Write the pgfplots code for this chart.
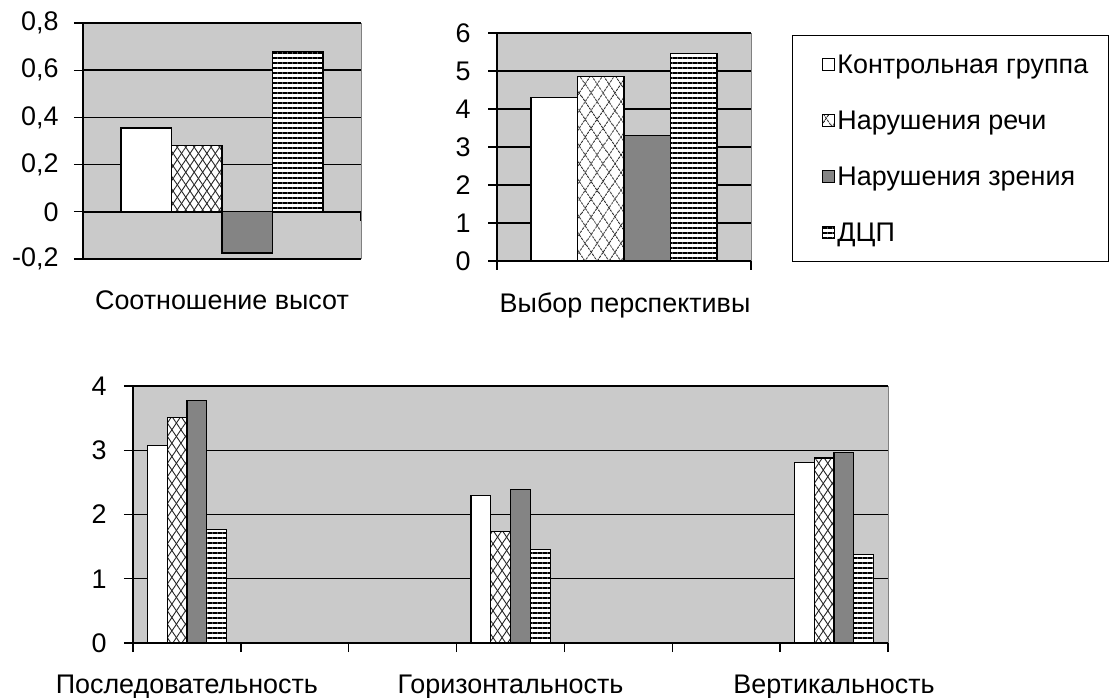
\documentclass[border=0pt]{standalone}
\usepackage{fontspec}
\setmainfont{Liberation Sans}
\usepackage{pgfplots}
\pgfplotsset{compat=1.18}
\usetikzlibrary{patterns.meta}
\definecolor{plotbg}{RGB}{202,202,202}
\definecolor{bargray}{RGB}{132,132,132}
\definecolor{bordergray}{RGB}{128,128,128}
\newcommand{\bigf}{\fontsize{27}{32}\selectfont}
\tikzset{
  crossfill/.style={fill=white,
    postaction={pattern={Lines[angle=56,distance=#1,line width=0.9bp]},pattern color=black!85},
    postaction={pattern={Lines[angle=-56,distance=#1,line width=0.9bp]},pattern color=black!85}},
  crossfill/.default=7bp,
  linefill/.style={fill=white,
    postaction={pattern={Lines[angle=0,distance=5bp,line width=1.8bp]},pattern color=black}},
}
\pgfplotsset{
  excel/.style={
    scale only axis, anchor=south west,
    axis background/.style={fill=plotbg},
    ybar=0pt,
    axis y line*=left,
    hide obscured x ticks=false, hide obscured y ticks=false,
    ymajorgrids,
    major grid style={black, line width=1.4bp},
    y axis line style={black, line width=1.6bp},
    x axis line style={black, line width=1.6bp},
    tick style={black, line width=1.3bp},
    tick align=outside,
    major tick length=9bp,
    ticklabel style={font=\bigf},
    label style={font=\bigf},
    /pgf/number format/assume math mode=true,
    every axis plot/.append style={draw=black, line width=1.2bp},
    after end axis/.code={\draw[bordergray, line width=1bp] (rel axis cs:1,0) -- (rel axis cs:1,1);},
  },
  sq/.style={legend image code/.code={\pgfpathrectangle{\pgfpoint{0bp}{-28bp}}{\pgfpoint{25bp}{56bp}}\pgfusepath{}\draw[##1, line width=1bp] (12bp,-6bp) rectangle (24bp,6bp);}},
}
\begin{document}
\begin{tikzpicture}
\path[use as bounding box] (0,0) rectangle (1110bp,698bp);
% top-left
\begin{axis}[excel, at={(83bp,439bp)}, width=278bp, height=236bp,
  xmin=0.5, xmax=1.5, ymin=-0.2, ymax=0.8,
  axis x line*=middle,
  xtick={0.5,1.5}, xticklabels={,,},
  ytick={-0.2,0,0.2,0.4,0.6,0.8}, yticklabels={{-0,2},{0},{0,2},{0,4},{0,6},{0,8}},
  yticklabel style={xshift=-12bp},
  bar width=50.5bp,
  xlabel={Соотношение высот}, xlabel style={at={(axis description cs:0.5,-0.212)}, anchor=base}]
\addplot[fill=white] coordinates {(1,0.355)};
\addplot[crossfill=7bp] coordinates {(1,0.28)};
\addplot[fill=bargray] coordinates {(1,-0.175)};
\addplot[linefill] coordinates {(1,0.68)};
\end{axis}
% top-middle
\begin{axis}[excel, at={(497bp,437bp)}, width=254bp, height=228bp,
  xmin=0.5, xmax=1.5, ymin=0, ymax=6,
  axis x line*=bottom,
  xtick={0.5,1.5}, xticklabels={,,},
  ytick={0,1,2,3,4,5,6},
  yticklabel style={xshift=-14bp},
  bar width=46.5bp,
  xlabel={Выбор перспективы}, xlabel style={at={(axis description cs:0.504,-0.224)}, anchor=base},
  legend style={at={(axis description cs:1.1614,0.9912)}, anchor=north west, draw=black, line width=1bp,
    inner xsep=18bp, inner ysep=1bp, row sep=0bp, font=\bigf, cells={anchor=west}}]
\addplot[fill=white, sq] coordinates {(1,4.3)};
\addplot[crossfill=10bp, sq] coordinates {(1,4.85)};
\addplot[fill=bargray, sq] coordinates {(1,3.3)};
\addplot[linefill, sq] coordinates {(1,5.45)};
\legend{Контрольная группа, Нарушения речи, Нарушения зрения, ДЦП}
\end{axis}
% bottom
\begin{axis}[excel, at={(133bp,55bp)}, width=755bp, height=257bp,
  xmin=0.5, xmax=7.5, ymin=0, ymax=4,
  axis x line*=bottom,
  xtick={0.5,1.5,...,7.5}, xticklabels={,,,,,,,,},
  extra x ticks={1,4,7},
  extra x tick labels={Последовательность,Горизонтальность,Вертикальность},
  extra x tick style={major tick length=0pt, xticklabel style={anchor=base, yshift=-50bp}},
  ytick={0,1,2,3,4},
  yticklabel style={xshift=-14bp},
  bar width=19.8bp]
\addplot[fill=white] coordinates {(1,3.08) (4,2.29) (7,2.81)};
\addplot[crossfill=7.5bp] coordinates {(1,3.51) (4,1.73) (7,2.88)};
\addplot[fill=bargray] coordinates {(1,3.77) (4,2.39) (7,2.96)};
\addplot[linefill] coordinates {(1,1.77) (4,1.46) (7,1.38)};
\end{axis}
\end{tikzpicture}
\end{document}
